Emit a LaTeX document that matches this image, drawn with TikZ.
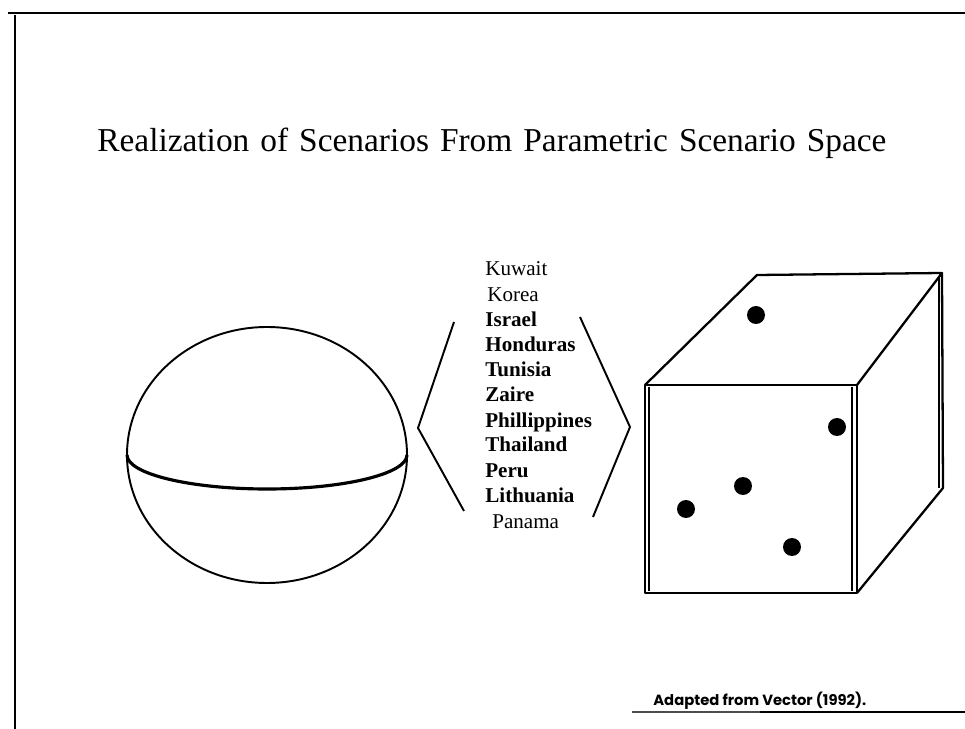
\documentclass[tikz,border=0pt]{standalone}
\usepackage{fontspec}
\setmainfont{Liberation Serif}
\newfontfamily\creditfont{Poppins}
\usepackage{tikz}
\usetikzlibrary{positioning, calc}

\begin{document}
\begin{tikzpicture}[
    x=0.02cm, y=-0.02cm,
    rule/.style={line width=1.7pt},
    outline/.style={line width=1.1pt},
    edge/.style={line width=1.3pt, line join=round},
    country/.style={anchor=base west, inner sep=0pt, font=\fontsize{12}{14}\selectfont\bfseries},
    plainname/.style={anchor=base west, inner sep=0pt, font=\fontsize{12}{14}\selectfont},
    scenario/.style={circle, fill, inner sep=0pt, minimum size=0.36cm},
]
    \useasboundingbox (0,0) rectangle (965,729);

    % page rules
    \draw[rule] (8,13) -- (965,13);
    \draw[rule] (15,15) -- (15,729);
    \draw[line width=0.8pt, black!70] (632,712) -- (760,712);
    \draw[rule] (760,712) -- (965,712);

    \node[anchor=base west, inner sep=0pt, font=\fontsize{19}{22}\selectfont] (title) at (97,152)
        {\spaceskip=0.33em\relax Realization of Scenarios From Parametric Scenario Space};

    % sphere
    \draw[outline] (267,455) ellipse[x radius=140, y radius=128];
    \draw[line width=1.8pt] (127,455) arc[start angle=180, end angle=0, x radius=140, y radius=34];

    % list of realized scenarios
    \node[plainname] (kuwait) at (485,276) {Kuwait};
    \node[plainname] (korea) at (487,302) {Korea};
    \node[country] (israel) at (485,327) {Israel};
    \node[country] (honduras) at (485,352) {Honduras};
    \node[country] (tunisia) at (485,377) {Tunisia};
    \node[country] (zaire) at (485,402) {Zaire};
    \node[country] (phil) at (485,428) {Phillippines};
    \node[country] (thai) at (485,452) {Thailand};
    \node[country] (peru) at (485,478) {Peru};
    \node[country] (lith) at (485,503) {Lithuania};
    \node[plainname] (panama) at (492,529) {Panama};

    % brackets
    \draw[outline] (454,322) -- (418,428) -- (464,511);
    \draw[outline] (580,317) -- (630,427) -- (593,517);

    % scenario space cube
    \draw[edge] (645,385) rectangle (857,593);
    \draw[outline] (649,387) -- (649,591);
    \draw[outline] (852,387) -- (852,591);
    \draw[edge] (645,385) -- (757,275) -- (942,273) -- (857,385);
    \draw[edge] (942,273) -- (943,488) -- (857,593);
    \draw[outline] (939,276) -- (939,488);

    \node[scenario] (s1) at (756,315) {};
    \node[scenario] (s2) at (837,427) {};
    \node[scenario] (s3) at (743,486) {};
    \node[scenario] (s4) at (686,509) {};
    \node[scenario] (s5) at (792,547) {};

    \node[anchor=base west, inner sep=0pt, font=\creditfont\bfseries\fontsize{8.4}{10}\selectfont] (credit) at (653,706)
        {Adapted from Vector (1992).};
\end{tikzpicture}
\end{document}
